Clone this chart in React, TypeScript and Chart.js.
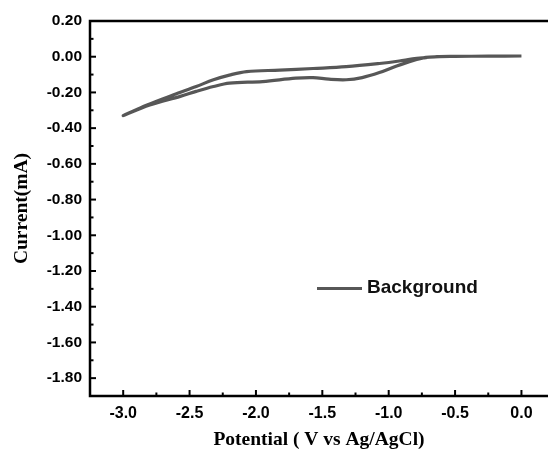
import React, { useEffect, useRef } from "react";
import { Chart, registerables } from "chart.js";

Chart.register(...registerables);

// Cyclic voltammogram: upper branch from 0.0 V to -3.0 V, then lower branch back
const potential = [
  0.0, -0.25, -0.5, -0.62, -0.72, -0.82, -0.92, -1.07, -1.32, -1.57, -1.82, -2.07, -2.2, -2.32, -2.45, -2.62, -2.82, -3.0,
  -2.8, -2.57, -2.45, -2.32, -2.2, -1.95, -1.7, -1.57, -1.45, -1.32, -1.2, -1.07, -0.94, -0.82, -0.72, -0.62,
];
const current = [
  0.004, 0.003, 0.002, 0.001, -0.005, -0.012, -0.024, -0.038, -0.056, -0.066, -0.075, -0.083, -0.103, -0.129, -0.167, -0.213, -0.27, -0.33,
  -0.27, -0.222, -0.194, -0.167, -0.148, -0.139, -0.12, -0.117, -0.126, -0.129, -0.117, -0.089, -0.052, -0.022, -0.004, 0.0,
];

const xTickValues = [-3.0, -2.5, -2.0, -1.5, -1.0, -0.5, 0.0];
const yTickValues = [0.2, 0.0, -0.2, -0.4, -0.6, -0.8, -1.0, -1.2, -1.4, -1.6, -1.8];
const xRange = [-3.25, 0.2];
const yRange = [-1.9, 0.2];

const seriesLabel = "Background";
const xTitle = "Potential ( V vs Ag/AgCl)";
const yTitle = "Current(mA)";

const SANS = "'Liberation Sans', Arial, sans-serif";
const SERIF = "'Liberation Serif', 'Times New Roman', serif";
const LINE_COLOR = "#575757";

const framePlugin = {
  id: "frameTicksLegend",
  afterDraw(chart: any) {
    const { ctx, chartArea, scales } = chart;
    const { left, right, top, bottom } = chartArea;
    const xs = scales.x;
    const ys = scales.y;
    ctx.save();
    ctx.strokeStyle = "#000";
    ctx.lineCap = "butt";

    // inward ticks
    ctx.lineWidth = 2;
    const yMajor = yTickValues;
    const yMinor: number[] = [];
    for (let i = 0; i < yMajor.length - 1; i++) yMinor.push((yMajor[i] + yMajor[i + 1]) / 2);
    yMajor.forEach((v) => {
      const p = ys.getPixelForValue(v);
      ctx.beginPath();
      ctx.moveTo(left, p);
      ctx.lineTo(left + 6, p);
      ctx.stroke();
    });
    yMinor.forEach((v) => {
      const p = ys.getPixelForValue(v);
      ctx.beginPath();
      ctx.moveTo(left, p);
      ctx.lineTo(left + 3.5, p);
      ctx.stroke();
    });
    const xMajor = xTickValues;
    const xMinor: number[] = [];
    for (let i = 0; i < xMajor.length - 1; i++) xMinor.push((xMajor[i] + xMajor[i + 1]) / 2);
    xMinor.push(xMajor[xMajor.length - 1] + (xMajor[1] - xMajor[0]) / 2);
    xMajor.forEach((v) => {
      const p = xs.getPixelForValue(v);
      ctx.beginPath();
      ctx.moveTo(p, bottom);
      ctx.lineTo(p, bottom - 6);
      ctx.stroke();
    });
    xMinor.forEach((v) => {
      const p = xs.getPixelForValue(v);
      if (p > right) return;
      ctx.beginPath();
      ctx.moveTo(p, bottom);
      ctx.lineTo(p, bottom - 3.5);
      ctx.stroke();
    });

    // axis frame: left, bottom, top
    ctx.lineWidth = 2.5;
    ctx.beginPath();
    ctx.moveTo(right, top);
    ctx.lineTo(left, top);
    ctx.lineTo(left, bottom);
    ctx.lineTo(right, bottom);
    ctx.stroke();

    // legend
    const ds = chart.data.datasets[0];
    ctx.strokeStyle = ds.borderColor;
    ctx.lineWidth = 3;
    ctx.beginPath();
    ctx.moveTo(317, 288.5);
    ctx.lineTo(362, 288.5);
    ctx.stroke();
    ctx.fillStyle = "#111";
    ctx.font = `bold 19px ${SANS}`;
    ctx.textAlign = "left";
    ctx.textBaseline = "middle";
    ctx.fillText(ds.label, 367, 288);
    ctx.restore();
  },
};

export default function App() {
  const ref = useRef<HTMLCanvasElement | null>(null);

  useEffect(() => {
    if (!ref.current) return;
    const points = potential.map((x, i) => ({ x, y: current[i] }));
    const chart = new Chart(ref.current, {
      type: "scatter",
      data: {
        datasets: [
          {
            label: seriesLabel,
            data: points,
            showLine: true,
            borderColor: LINE_COLOR,
            backgroundColor: LINE_COLOR,
            borderWidth: 3.2,
            pointRadius: 0,
            tension: 0.35,
          },
        ],
      },
      options: {
        responsive: false,
        animation: false,
        layout: { padding: { top: 21, left: 0, right: 0, bottom: 0 } },
        plugins: {
          legend: { display: false },
          tooltip: { enabled: false },
        },
        scales: {
          x: {
            type: "linear",
            min: xRange[0],
            max: xRange[1],
            afterBuildTicks: (s: any) => {
              s.ticks = xTickValues.map((v) => ({ value: v }));
            },
            afterFit: (s: any) => {
              s.height = 56;
            },
            grid: { display: false, drawTicks: false },
            border: { display: false },
            ticks: {
              autoSkip: false,
              maxRotation: 0,
              padding: 8,
              color: "#000",
              font: { family: SANS, size: 16, weight: "bold" },
              callback: (v: any) => Number(v).toFixed(1),
            },
            title: {
              display: true,
              text: xTitle,
              color: "#000",
              font: { family: SERIF, size: 19.5, weight: "bold" },
              padding: { top: 0, bottom: 0 },
            },
          },
          y: {
            type: "linear",
            min: yRange[0],
            max: yRange[1],
            afterBuildTicks: (s: any) => {
              s.ticks = yTickValues.map((v) => ({ value: v }));
            },
            afterFit: (s: any) => {
              s.width = 90;
            },
            grid: { display: false, drawTicks: false },
            border: { display: false },
            ticks: {
              autoSkip: false,
              padding: 8,
              color: "#000",
              font: { family: SANS, size: 15.5, weight: "bold" },
              callback: (v: any) => Number(v).toFixed(2),
            },
            title: {
              display: true,
              text: yTitle,
              color: "#000",
              font: { family: SERIF, size: 19.5, weight: "bold" },
              padding: { top: 10, bottom: 0 },
            },
          },
        },
      } as any,
      plugins: [framePlugin],
    });
    return () => chart.destroy();
  }, []);

  return (
    <div style={{ position: "absolute", left: 0, top: 0, width: 548, height: 452, background: "#fff" }}>
      <canvas ref={ref} width={548} height={452} style={{ display: "block" }} />
    </div>
  );
}
